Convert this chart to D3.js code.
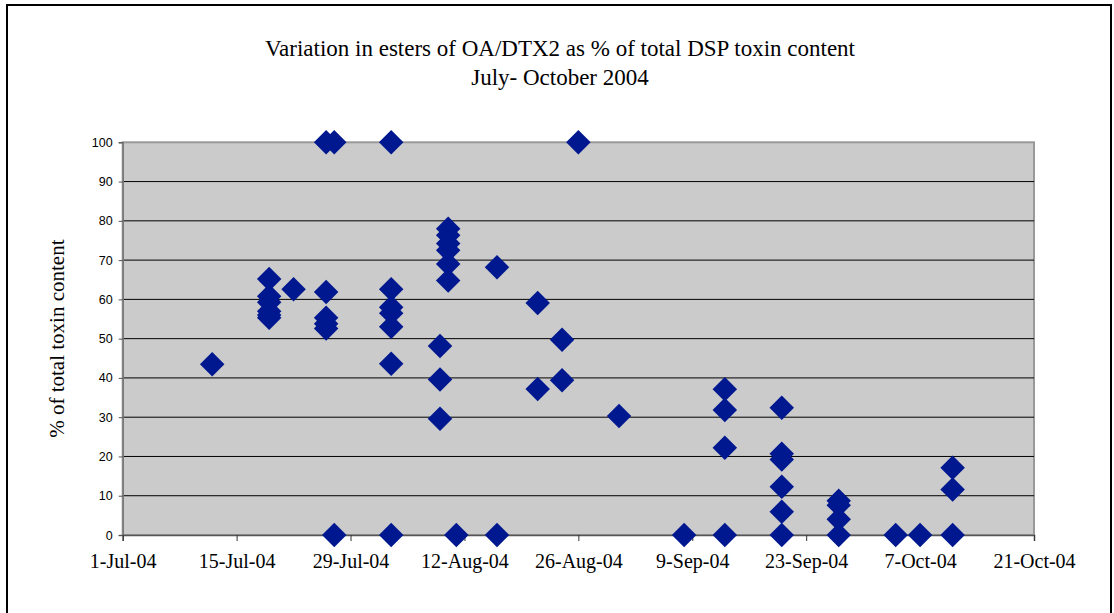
<!DOCTYPE html>
<html>
<head>
<meta charset="utf-8">
<script src="https://cdn.jsdelivr.net/npm/d3@7"></script>
<style>
  body { margin: 0; background: #fff; }
</style>
</head>
<body>
<div id="chart"></div>
<script>
// sample dates and % esters, one entry per point
var sampleDates = [
	'2004-07-12',
	'2004-07-19', '2004-07-19', '2004-07-19', '2004-07-19', '2004-07-19', '2004-07-19',
	'2004-07-22',
	'2004-07-26', '2004-07-26', '2004-07-26', '2004-07-26', '2004-07-26',
	'2004-07-27', '2004-07-27',
	'2004-08-03', '2004-08-03', '2004-08-03', '2004-08-03', '2004-08-03', '2004-08-03', '2004-08-03',
	'2004-08-09', '2004-08-09', '2004-08-09',
	'2004-08-10', '2004-08-10', '2004-08-10', '2004-08-10', '2004-08-10', '2004-08-10',
	'2004-08-11',
	'2004-08-16', '2004-08-16',
	'2004-08-21', '2004-08-21',
	'2004-08-24', '2004-08-24',
	'2004-08-26',
	'2004-08-31',
	'2004-09-08',
	'2004-09-13', '2004-09-13', '2004-09-13', '2004-09-13',
	'2004-09-20', '2004-09-20', '2004-09-20', '2004-09-20', '2004-09-20', '2004-09-20',
	'2004-09-27', '2004-09-27', '2004-09-27', '2004-09-27',
	'2004-10-04',
	'2004-10-07',
	'2004-10-11', '2004-10-11', '2004-10-11'
];
var esterPct = [
	43.5,
	65.2, 60.8, 59.3, 57.0, 56.0, 55.3,
	62.6,
	100, 61.9, 55.3, 53.8, 52.6,
	100, 0,
	100, 62.6, 58.0, 56.5, 53.0, 43.6, 0,
	48.1, 39.6, 29.6,
	78.0, 76.3, 74.2, 72.5, 69.0, 64.8,
	0,
	68.2, 0,
	59.1, 37.2,
	49.7, 39.4,
	100,
	30.3,
	0,
	37.1, 31.8, 22.2, 0,
	32.4, 20.7, 19.2, 12.3, 5.9, 0,
	8.7, 7.6, 4.0, 0,
	0,
	0,
	17.1, 11.6, 0
];
var xTickDates = ['2004-07-01', '2004-07-15', '2004-07-29', '2004-08-12', '2004-08-26',
	'2004-09-09', '2004-09-23', '2004-10-07', '2004-10-21'];
var yTicks = [0, 10, 20, 30, 40, 50, 60, 70, 80, 90, 100];

var width = 1114;
var height = 613;
var plotLeft = 122.7, plotRight = 1034, plotTop = 142.3, plotBottom = 535;
var markerColor = '#00188f';
var serif = '"Liberation Serif", "Times New Roman", serif';

var parseDate = d3.utcParse('%Y-%m-%d');
var fmtDate = d3.utcFormat('%-d-%b-%y');

var svg = d3.select('#chart').append('svg').attr('width', width).attr('height', height);

// outer chart border
svg.append('rect').attr('x', 7).attr('y', 5).attr('width', 1104).attr('height', 620)
	.style('fill', '#fff').style('stroke', '#000').style('stroke-width', 2);

var x = d3.scaleUtc()
	.domain([parseDate(xTickDates[0]), parseDate(xTickDates[xTickDates.length - 1])])
	.range([plotLeft, plotRight]);
var y = d3.scaleLinear().domain([0, 100]).range([plotBottom, plotTop]);

// plot area
svg.append('rect').attr('x', plotLeft).attr('y', plotTop)
	.attr('width', plotRight - plotLeft).attr('height', plotBottom - plotTop)
	.style('fill', '#cbcbcb').style('stroke', '#999').style('stroke-width', 2);

// gridlines
svg.append('g').selectAll('line').data(yTicks.slice(1, -1)).enter().append('line')
	.attr('x1', plotLeft).attr('x2', plotRight)
	.attr('y1', function(d){ return y(d); }).attr('y2', function(d){ return y(d); })
	.style('stroke', '#000').style('stroke-width', 1);

// y axis
var yAxis = svg.append('g').attr('transform', 'translate(' + plotLeft + ',0)')
	.call(d3.axisLeft(y).tickValues(yTicks).tickSize(4).tickPadding(6));
yAxis.select('.domain').style('stroke', '#777').style('stroke-width', 1.5);
yAxis.selectAll('.tick line').style('stroke', '#555');
yAxis.selectAll('text').style('font-family', '"Liberation Sans", Arial, sans-serif')
	.style('font-size', '12.5px').style('fill', '#000');

// x axis
var xAxis = svg.append('g').attr('transform', 'translate(0,' + plotBottom + ')')
	.call(d3.axisBottom(x).tickValues(xTickDates.map(parseDate)).tickFormat(fmtDate)
		.tickSize(6).tickPadding(13));
xAxis.select('.domain').style('stroke', '#555').style('stroke-width', 1.5);
xAxis.selectAll('.tick line').style('stroke', '#333');
xAxis.selectAll('text').style('font-family', serif)
	.style('font-size', '20px').style('fill', '#000');

// data diamonds
svg.append('g').selectAll('path').data(esterPct).enter().append('path')
	.attr('d', d3.symbol(d3.symbolSquare, 300))
	.attr('transform', function(d, i){
		return 'translate(' + x(parseDate(sampleDates[i])) + ',' + y(d) + ') rotate(45)';
	})
	.style('fill', markerColor);

// titles
svg.append('text').attr('x', 560).attr('y', 56).attr('text-anchor', 'middle')
	.style('font-family', serif).style('font-size', '23px')
	.text('Variation in esters of OA/DTX2 as % of total DSP toxin content');
svg.append('text').attr('x', 560).attr('y', 85).attr('text-anchor', 'middle')
	.style('font-family', serif).style('font-size', '23px')
	.text('July- October 2004');
svg.append('text').attr('transform', 'translate(64,' + ((plotTop + plotBottom) / 2) + ') rotate(-90)')
	.attr('text-anchor', 'middle')
	.style('font-family', serif).style('font-size', '21px')
	.text('% of total toxin content');
</script>
</body>
</html>
